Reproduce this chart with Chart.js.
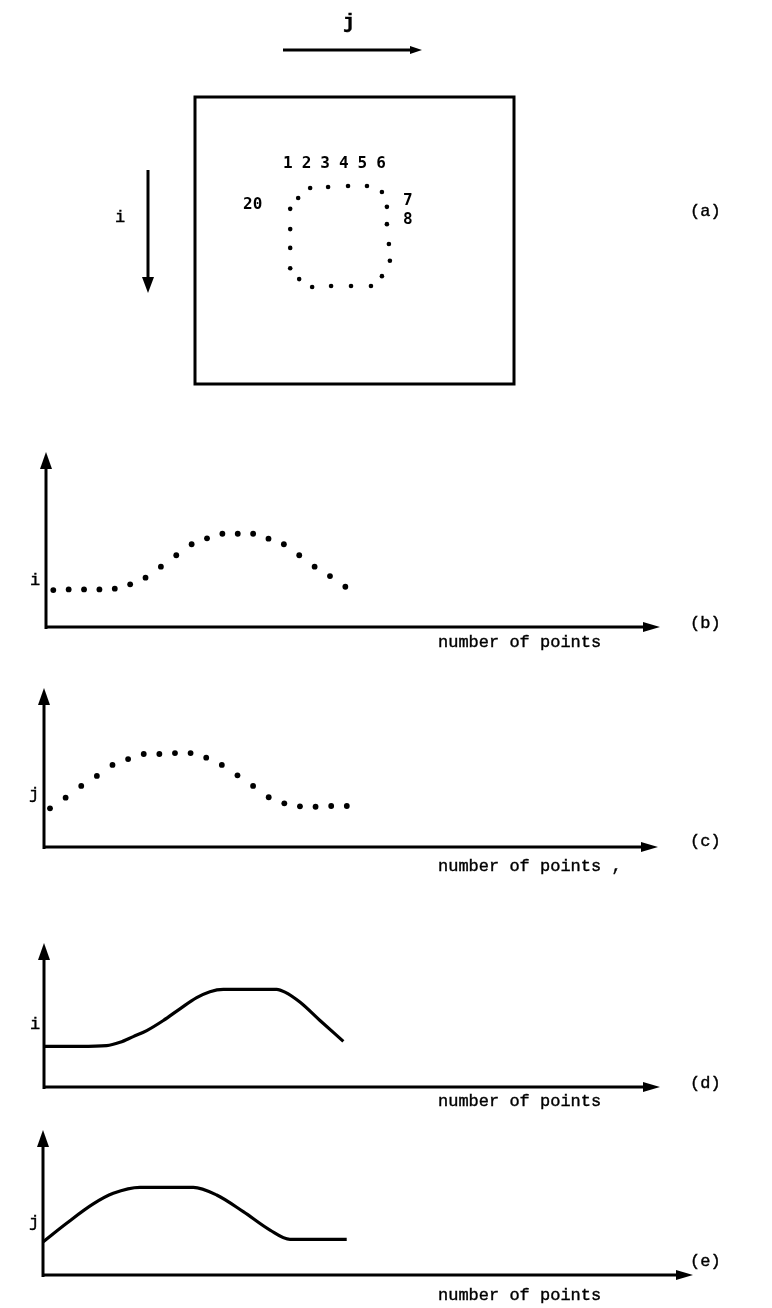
<!DOCTYPE html>
<html>
<head>
<meta charset="utf-8">
<title>Contour tracing</title>
<script src="https://cdn.jsdelivr.net/npm/chart.js@4.4.1/dist/chart.umd.min.js"></script>
<style>
  html, body { margin: 0; padding: 0; background: #fff; }
  #page { position: relative; width: 772px; height: 1308px; overflow: hidden; }
  canvas { position: absolute; left: 0; }
  .lbl { position: absolute; font-family: "Liberation Mono", "Courier New", monospace; font-size: 17px; color: #000; white-space: pre; line-height: 1; -webkit-text-stroke: 0.4px #000; }
  .num { font-family: "DejaVu Sans Mono", monospace; font-weight: bold; font-size: 16px; -webkit-text-stroke: 0; }
</style>
</head>
<body>
<div id="page">
  <canvas id="chartA" width="772" height="400" style="top:0px;width:772px;height:400px"></canvas>
  <canvas id="chartB" width="772" height="220" style="top:430px;width:772px;height:220px"></canvas>
  <canvas id="chartC" width="772" height="200" style="top:670px;width:772px;height:200px"></canvas>
  <canvas id="chartD" width="772" height="190" style="top:920px;width:772px;height:190px"></canvas>
  <canvas id="chartE" width="772" height="190" style="top:1110px;width:772px;height:190px"></canvas>

  <div class="lbl" style="left:343px;top:13px;font-size:20px;font-weight:bold">j</div>
  <div class="lbl" style="left:115px;top:209px">i</div>
  <div class="lbl" style="left:690px;top:203px">(a)</div>
  <div class="lbl num" style="left:283px;top:155px;letter-spacing:9px">123456</div>
  <div class="lbl num" style="left:243px;top:196px">20</div>
  <div class="lbl num" style="left:403px;top:192px">7</div>
  <div class="lbl num" style="left:403px;top:211px">8</div>

  <div class="lbl" style="left:30px;top:572px">i</div>
  <div class="lbl" style="left:690px;top:615px">(b)</div>
  <div class="lbl" style="left:438px;top:634px">number of points</div>

  <div class="lbl" style="left:29px;top:786px">j</div>
  <div class="lbl" style="left:690px;top:833px">(c)</div>
  <div class="lbl" style="left:438px;top:858px">number of points ,</div>

  <div class="lbl" style="left:30px;top:1016px">i</div>
  <div class="lbl" style="left:690px;top:1075px">(d)</div>
  <div class="lbl" style="left:438px;top:1093px">number of points</div>

  <div class="lbl" style="left:29px;top:1214px">j</div>
  <div class="lbl" style="left:690px;top:1253px">(e)</div>
  <div class="lbl" style="left:438px;top:1287px">number of points</div>
</div>

<script>
// contour points 1..20 in image coordinates (column j, row i)
const contourJ = [20.7, 23.1, 26.7, 30.7, 34.5, 37.5, 38.5, 38.5, 38.9, 39.1, 37.5, 35.3, 31.3, 27.3, 23.5, 20.9, 19.1, 19.1, 19.1, 19.1];
const contourI = [20.4, 18.4, 18.2, 18.0, 18.0, 19.2, 22.2, 25.7, 29.7, 33.1, 36.2, 38.2, 38.2, 38.2, 38.4, 36.8, 34.6, 30.5, 26.7, 22.6];

// point number along the contour
const pointNo = [1, 2, 3, 4, 5, 6, 7, 8, 9, 10, 11, 12, 13, 14, 15, 16, 17, 18, 19, 20];
// i and j of each point, plotted against the point number
const iByPoint = [21.1, 21.5, 21.5, 21.5, 21.9, 24.4, 28.2, 34.5, 41.0, 47.3, 50.7, 53.3, 53.3, 53.3, 50.5, 47.3, 41.0, 34.5, 29.1, 23.0];
const jByPoint = [24.3, 31.0, 38.4, 44.7, 51.6, 55.3, 58.5, 58.5, 59.1, 59.1, 56.2, 51.6, 45.1, 38.4, 31.3, 27.5, 25.6, 25.3, 25.8, 25.8];

// smoothed i curve
const iSmoothX = [0.46, 2.74, 4.47, 5.34, 6.20, 7.08, 8.16, 9.24, 10.33, 11.19, 12.06, 15.53, 16.07, 17.04, 18.35, 19.87];
const iSmoothY = [28.2, 28.2, 28.7, 31.0, 35.0, 39.2, 46.2, 54.3, 62.0, 66.2, 67.8, 67.8, 65.9, 59.0, 46.2, 31.7];
// smoothed j curve
const jSmoothX = [0.35, 1.87, 3.60, 4.90, 6.64, 10.11, 11.63, 13.36, 15.10, 16.40, 20.09];
const jSmoothY = [23.0, 35.7, 49.0, 56.3, 60.5, 60.5, 55.2, 43.7, 31.0, 24.6, 24.6];

const ink = '#000';

function zip(xs, ys) {
  return xs.map((x, k) => ({ x: x, y: ys[k] }));
}

function arrowHead(ctx, x, y, dir, len, half) {
  ctx.beginPath();
  if (dir === 'up') {
    ctx.moveTo(x, y); ctx.lineTo(x - half, y + len); ctx.lineTo(x + half, y + len);
  } else if (dir === 'down') {
    ctx.moveTo(x, y); ctx.lineTo(x - half, y - len); ctx.lineTo(x + half, y - len);
  } else {
    ctx.moveTo(x, y); ctx.lineTo(x - len, y - half); ctx.lineTo(x - len, y + half);
  }
  ctx.closePath();
  ctx.fill();
}

// y axis and x axis as arrows along the chart area edges
const arrowAxes = {
  id: 'arrowAxes',
  beforeDatasetsDraw(chart) {
    const { ctx, chartArea: a } = chart;
    ctx.save();
    ctx.strokeStyle = ink;
    ctx.fillStyle = ink;
    ctx.lineWidth = 3;
    ctx.beginPath();
    ctx.moveTo(a.left, a.bottom + 2);
    ctx.lineTo(a.left, a.top + 10);
    ctx.stroke();
    ctx.beginPath();
    ctx.moveTo(a.left - 1, a.bottom);
    ctx.lineTo(a.right - 10, a.bottom);
    ctx.stroke();
    arrowHead(ctx, a.left, a.top, 'up', 17, 6);
    arrowHead(ctx, a.right, a.bottom, 'right', 17, 5);
    ctx.restore();
  }
};

// image frame plus the i / j direction arrows
const imageFrame = {
  id: 'imageFrame',
  beforeDatasetsDraw(chart) {
    const { ctx, chartArea: a } = chart;
    ctx.save();
    ctx.strokeStyle = ink;
    ctx.fillStyle = ink;
    ctx.lineWidth = 3;
    ctx.strokeRect(a.left, a.top, a.right - a.left, a.bottom - a.top);

    const jy = a.top - 47;
    ctx.beginPath();
    ctx.moveTo(a.left + 88, jy);
    ctx.lineTo(a.left + 218, jy);
    ctx.stroke();
    arrowHead(ctx, a.left + 227, jy, 'right', 12, 4);

    const ix = a.left - 47;
    ctx.beginPath();
    ctx.moveTo(ix, a.top + 73);
    ctx.lineTo(ix, a.top + 182);
    ctx.stroke();
    arrowHead(ctx, ix, a.top + 196, 'down', 16, 6);
    ctx.restore();
  }
};

function baseOptions(pad, xMin, xMax, yMin, yMax, yReverse) {
  return {
    responsive: false,
    animation: false,
    events: [],
    layout: { padding: pad },
    plugins: { legend: { display: false }, tooltip: { enabled: false } },
    scales: {
      x: { type: 'linear', display: false, min: xMin, max: xMax },
      y: { type: 'linear', display: false, min: yMin, max: yMax, reverse: !!yReverse }
    }
  };
}

function dots(points, r) {
  return {
    data: points,
    showLine: false,
    pointRadius: r,
    pointBackgroundColor: ink,
    pointBorderWidth: 0,
    clip: false
  };
}

function curve(points) {
  return {
    data: points,
    borderColor: ink,
    borderWidth: 3.2,
    pointRadius: 0,
    cubicInterpolationMode: 'monotone',
    clip: false
  };
}

// (a) the image with the traced contour
new Chart(document.getElementById('chartA'), {
  type: 'scatter',
  data: { datasets: [dots(zip(contourJ, contourI), 2.3)] },
  options: baseOptions({ left: 195, top: 97, right: 258, bottom: 16 }, 0, 64, 0, 58, true),
  plugins: [imageFrame]
});

// (b) i against point number
new Chart(document.getElementById('chartB'), {
  type: 'scatter',
  data: { datasets: [dots(zip(pointNo, iByPoint), 2.9)] },
  options: baseOptions({ left: 46, top: 22, right: 112, bottom: 23 }, 0.525, 40.47, 0, 100),
  plugins: [arrowAxes]
});

// (c) j against point number
new Chart(document.getElementById('chartC'), {
  type: 'scatter',
  data: { datasets: [dots(zip(pointNo, jByPoint), 2.9)] },
  options: baseOptions({ left: 44, top: 18, right: 114, bottom: 23 }, 0.616, 39.92, 0, 100),
  plugins: [arrowAxes]
});

// (d) smoothed i
new Chart(document.getElementById('chartD'), {
  type: 'line',
  data: { datasets: [curve(zip(iSmoothX, iSmoothY))] },
  options: baseOptions({ left: 44, top: 23, right: 112, bottom: 23 }, 0.395, 40.47, 0, 100),
  plugins: [arrowAxes]
});

// (e) smoothed j
new Chart(document.getElementById('chartE'), {
  type: 'line',
  data: { datasets: [curve(zip(jSmoothX, jSmoothY))] },
  options: baseOptions({ left: 43, top: 20, right: 79, bottom: 25 }, 0.33, 42.62, 0, 100),
  plugins: [arrowAxes]
});
</script>
</body>
</html>
